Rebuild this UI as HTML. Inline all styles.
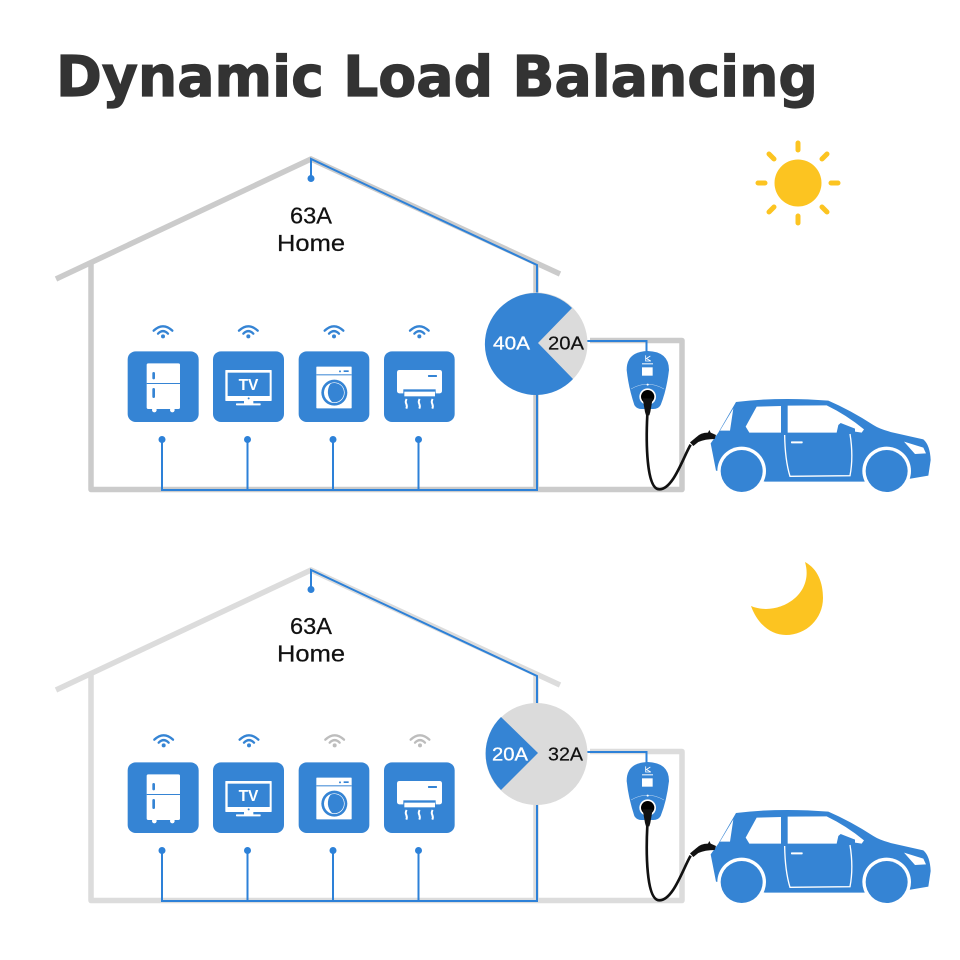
<!DOCTYPE html>
<html><head><meta charset="utf-8"><title>Dynamic Load Balancing</title>
<style>html,body{margin:0;padding:0;background:#fff}svg{display:block}
text{font-family:"Liberation Sans",sans-serif}</style></head>
<body>
<svg xmlns="http://www.w3.org/2000/svg" width="960" height="960" viewBox="0 0 960 960">
<defs>
<g id="wifi" fill="none" stroke-width="7" stroke-linecap="round">
  <path d="M101 62 Q129 36 157 62"/><path d="M114 71 Q129 56 144 71"/>
  <circle cx="129" cy="79" r="6" stroke="none" fill="currentColor"/>
</g>
<g id="icons">
  <rect x="23" y="124" width="213" height="212" rx="24" fill="#3584d4"/>
  <rect x="279" y="124" width="213" height="212" rx="24" fill="#3584d4"/>
  <rect x="536" y="124" width="212" height="212" rx="24" fill="#3584d4"/>
  <rect x="792" y="124" width="212" height="212" rx="24" fill="#3584d4"/>
  <!-- fridge -->
  <rect x="80" y="160" width="100" height="137" rx="5" fill="#fff"/>
  <rect x="80" y="219" width="100" height="3" fill="#3584d4"/>
  <path d="M101 190V204M101 238V260" stroke="#3584d4" stroke-width="8" stroke-linecap="round"/>
  <circle cx="103" cy="300" r="7" fill="#fff"/><circle cx="157" cy="300" r="7" fill="#fff"/>
  <!-- tv -->
  <rect x="316" y="180" width="139" height="93" rx="2" fill="#fff"/>
  <rect x="323" y="188" width="126" height="70" fill="#3584d4"/>
  <circle cx="386" cy="265" r="3" fill="#3584d4"/>
  <rect x="372" y="273" width="28" height="8" fill="#fff"/>
  <rect x="348" y="280" width="74" height="6" rx="2" fill="#fff"/>
  <!-- washer -->
  <rect x="589" y="170" width="106" height="125" rx="2" fill="#fff"/>
  <rect x="589" y="193" width="106" height="3" fill="#3584d4"/>
  <circle cx="660" cy="184" r="3" fill="#3584d4"/>
  <rect x="671" y="181" width="15" height="5" fill="#3584d4"/>
  <circle cx="643" cy="248" r="39" fill="#3584d4"/>
  <circle cx="643" cy="248" r="31" fill="#fff"/>
  <path d="M632 221 A29 29 0 1 1 636 276 A42 42 0 0 1 632 221Z" fill="#3584d4"/>
  <!-- ac -->
  <rect x="831" y="180" width="135" height="70" rx="7" fill="#fff"/>
  <rect x="850" y="238" width="97" height="14" fill="#3584d4"/>
  <rect x="853" y="245" width="92" height="14" fill="#fff"/>
  <rect x="924" y="195" width="27" height="6" rx="2" fill="#3584d4"/>
  <path d="M860 267 Q855 275 859 282 Q862 289 859 296M899 267 Q894 275 898 282 Q901 289 898 296M938 267 Q933 275 937 282 Q940 289 937 296" fill="none" stroke="#fff" stroke-width="6"/>
</g>
<g id="car">
  <path d="M168 66 Q300 50 445 62 Q510 90 580 135 Q600 148 640 158 L730 178 Q750 195 752 240 L745 287 L692 296 L550 305 L255 305 L108 272 L92 190 L115 158Z" fill="#3584d4"/>
  <path d="M160 85 L120 152 L150 152Z" fill="#fff"/>
  <path d="M230 80 L303 78 L303 158 L208 158 L197 140Z" fill="#fff"/>
  <path d="M323 77 L440 76 Q500 105 552 148 L545 158 L525 155 L525 146 L482 129 L475 135 L470 158 L323 158Z" fill="#fff"/>
  <path d="M314 165 Q315 240 330 289 L510 287 Q521 230 510 162" fill="none" stroke="#fff" stroke-width="4"/>
  <rect x="333" y="184" width="35" height="6" rx="2" fill="#fff"/>
  <path d="M672 185 L730 203 L738 220 L705 222Z" fill="#fff"/>
  <circle cx="185" cy="273" r="73" fill="#fff"/><circle cx="185" cy="273" r="63" fill="#3584d4"/>
  <circle cx="620" cy="273" r="73" fill="#fff"/><circle cx="620" cy="273" r="63" fill="#3584d4"/>
  <rect x="100" y="305" width="30" height="40" fill="#fff"/>
  <path d="M30 187 L40 198 L55 186 Q75 177 104 177 L108 165 L92 158 L88 150 L84 158 Q62 158 48 172Z" fill="#111"/>
</g>
<g id="charger">
  <path d="M533 213 Q597 215 597 270 Q590 330 572 375 Q565 387 550 387 L515 387 Q500 387 493 375 Q475 320 470 270 Q470 215 533 213Z" fill="#3584d4"/>
  <path d="M527 226V243H543M527 237L541 228M530 236L542 243" fill="none" stroke="#fff" stroke-width="2.5"/>
  <rect x="516" y="250" width="33" height="3" fill="#fff"/>
  <rect x="516" y="262" width="32" height="25" fill="#fff"/>
  <path d="M483 327 Q532 298 582 327" fill="none" stroke="#fff" stroke-opacity=".7" stroke-width="1.5"/>
  <circle cx="533" cy="314" r="3" fill="#fff"/>
  <circle cx="533" cy="350" r="25" fill="#fff"/>
  <circle cx="533" cy="350" r="20" fill="#000"/>
  <path d="M518 355 L548 355 L541 396 L538 406 L528 406 L525 396Z" fill="#111"/>
  <path d="M532 404 C528 480 528 628 568 628 C610 628 640 530 662 494" fill="none" stroke="#111" stroke-width="8"/>
</g>
</defs>
<rect width="960" height="960" fill="#fff"/>
<text x="56" y="96" font-size="56" font-weight="700" fill="#333" stroke="#333" stroke-width="1.2" textLength="762" lengthAdjust="spacingAndGlyphs" style="font-family:'DejaVu Sans',sans-serif">Dynamic Load Balancing</text>

<!-- sun -->
<circle cx="798" cy="183" r="23.5" fill="#fcc421"/>
<g stroke="#fcc421" stroke-width="5" stroke-linecap="round" fill="none">
  <path d="M798 143V150M798 216V223M758 183H765M831 183H838M769 154L774 159M822 207L827 212M769 212L774 207M822 159L827 154"/>
</g>
<!-- moon -->
<path d="M805 562 C818 569 823 583 823 598 C823 619 806 635 786 635 C770 635 757 623 751 606 C777 617 815 596 805 562Z" fill="#fcc421"/>

<!-- scene 1 -->
<g>
  <g fill="none" stroke="#cbcbcb" stroke-width="5.5">
    <path d="M56 279 L311 159 L560 274"/>
    <path d="M91 263 V489.5 H682 V340.5 H590" stroke-linejoin="round"/>
    <path d="M536 262 V489"/>
  </g>
  <g fill="none" stroke="#2d81d8" stroke-width="2">
    <path d="M311 178 V159 L537 265 V300"/>
    <path d="M537 390 V490 H162 V439"/>
    <path d="M247.5 439 V490 M333 439 V490 M418.5 439 V490"/>
    <path d="M586 341 H646.5 V353"/>
  </g>
  <circle cx="311" cy="178.5" r="3.5" fill="#2d81d8"/>
  <g fill="#2d81d8"><circle cx="162" cy="439.5" r="3.5"/><circle cx="247.5" cy="439.5" r="3.5"/><circle cx="333" cy="439.5" r="3.5"/><circle cx="418.5" cy="439.5" r="3.5"/></g>
  <text x="311" y="223.5" font-size="23.5" text-anchor="middle" fill="#111" stroke="#111" stroke-width=".25" textLength="42" lengthAdjust="spacingAndGlyphs">63A</text>
  <text x="311" y="251" font-size="23.5" text-anchor="middle" fill="#111" stroke="#111" stroke-width=".25" textLength="68" lengthAdjust="spacingAndGlyphs">Home</text>
  <circle cx="536.5" cy="343.5" r="51" fill="#dbdbdb"/>
  <path d="M538 343 L572 308 A51 51 0 1 0 573 379Z" fill="#3584d4"/>
  <text x="493" y="349.5" font-size="18.5" fill="#fff" stroke="#fff" stroke-width=".3" textLength="37" lengthAdjust="spacingAndGlyphs">40A</text>
  <text x="548" y="349.5" font-size="18.5" fill="#111" stroke="#111" stroke-width=".2" textLength="36" lengthAdjust="spacingAndGlyphs">20A</text>
  <g transform="translate(120 310) scale(.33333)">
    <use href="#icons"/>
    <g color="#3584d4" stroke="#3584d4" fill="#3584d4">
      <use href="#wifi"/><use href="#wifi" x="256"/><use href="#wifi" x="513"/><use href="#wifi" x="769"/>
    </g>
  </g>
  <text x="248.5" y="390" font-size="15.5" font-weight="700" fill="#fff" text-anchor="middle">TV</text>
  <g transform="translate(470 280) scale(.33333)"><use href="#charger"/></g>
  <g transform="translate(680 380) scale(.33333)"><use href="#car"/></g>
</g>

<!-- scene 2 -->
<g transform="translate(0 411)">
  <g fill="none" stroke="#dcdcdc" stroke-width="5.5">
    <path d="M56 279 L311 159 L560 274"/>
    <path d="M91 263 V489.5 H682 V340.5 H590" stroke-linejoin="round"/>
    <path d="M536 262 V489"/>
  </g>
  <g fill="none" stroke="#2d81d8" stroke-width="2">
    <path d="M311 178 V159 L537 265 V300"/>
    <path d="M537 390 V490 H162 V439"/>
    <path d="M247.5 439 V490 M333 439 V490 M418.5 439 V490"/>
    <path d="M586 341 H646.5 V353"/>
  </g>
  <circle cx="311" cy="178.5" r="3.5" fill="#2d81d8"/>
  <g fill="#2d81d8"><circle cx="162" cy="439.5" r="3.5"/><circle cx="247.5" cy="439.5" r="3.5"/><circle cx="333" cy="439.5" r="3.5"/><circle cx="418.5" cy="439.5" r="3.5"/></g>
  <text x="311" y="223" font-size="23.5" text-anchor="middle" fill="#111" stroke="#111" stroke-width=".25" textLength="42" lengthAdjust="spacingAndGlyphs">63A</text>
  <text x="311" y="250.5" font-size="23.5" text-anchor="middle" fill="#111" stroke="#111" stroke-width=".25" textLength="68" lengthAdjust="spacingAndGlyphs">Home</text>
  <circle cx="536.5" cy="343" r="51" fill="#dbdbdb"/>
  <path d="M538 342 L501 306 A51 51 0 0 0 501 379Z" fill="#3584d4"/>
  <text x="492" y="349.5" font-size="18.5" fill="#fff" stroke="#fff" stroke-width=".3" textLength="36" lengthAdjust="spacingAndGlyphs">20A</text>
  <text x="548" y="349.5" font-size="18.5" fill="#111" stroke="#111" stroke-width=".2" textLength="35" lengthAdjust="spacingAndGlyphs">32A</text>
  <g transform="translate(120 310) scale(.33333)">
    <use href="#icons"/>
    <g transform="translate(2 -6)">
      <g color="#3584d4" stroke="#3584d4" fill="#3584d4"><use href="#wifi"/><use href="#wifi" x="256"/></g>
      <g color="#bdbdbd" stroke="#bdbdbd" fill="#bdbdbd"><use href="#wifi" x="513"/><use href="#wifi" x="769"/></g>
    </g>
  </g>
  <text x="248.5" y="390" font-size="15.5" font-weight="700" fill="#fff" text-anchor="middle">TV</text>
  <g transform="translate(470 280) scale(.33333)"><use href="#charger"/></g>
  <g transform="translate(680 380) scale(.33333)"><use href="#car"/></g>
</g>
</svg>
</body></html>
